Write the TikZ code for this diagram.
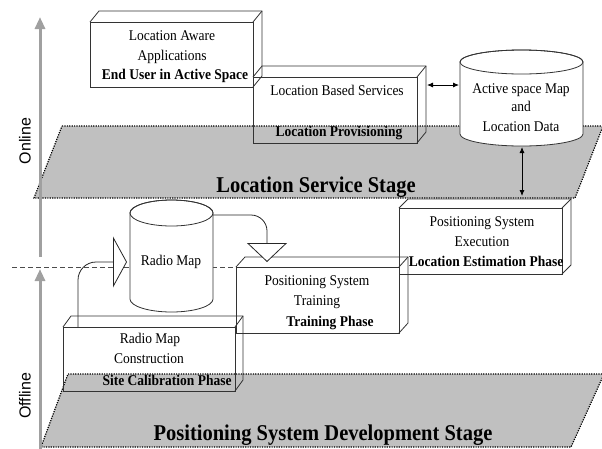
\documentclass[tikz,border=0pt]{standalone}
\usepackage{fontspec}
\setmainfont{Liberation Serif}
\newfontfamily\arialfont{Liberation Sans}
\usetikzlibrary{arrows.meta,calc}
\definecolor{stagegray}{RGB}{192,192,192}
\definecolor{arrowgray}{RGB}{160,160,160}
\newcommand\vs[1]{\scalebox{1}[1.1]{#1}}
\newcommand\mycube[3]{%
  \draw[edge] (#1.north west) -- ++(#2,-#3) -| ($(#1.south east)+(#2,-#3)$) -- (#1.south east);
  \draw[edge] (#1.north east) -- ++(#2,-#3);}
\tikzset{
  edge/.style={draw=black!80, line width=0.8pt},
  front/.style={draw=black!80, line width=0.8pt, inner sep=0pt, outer sep=0pt, anchor=north west},
  txt/.style={font=\fontsize{13.5}{16}\selectfont, inner sep=0pt, text height=9.5pt, text depth=3pt},
  btxt/.style={txt, font=\fontsize{13.5}{16}\selectfont\bfseries},
  stage/.style={fill=stagegray, draw=black, line width=1.2pt, dash pattern=on 1.2pt off 1.2pt},
  stagelbl/.style={font=\fontsize{20.5}{24}\selectfont\bfseries, inner sep=0pt, anchor=base},
  timeline/.style={draw=arrowgray, line width=3pt, -{Triangle[length=12pt,width=10pt]}},
  sidelbl/.style={rotate=90, font=\arialfont\fontsize{16}{18}\selectfont, inner sep=0pt},
  dashedline/.style={draw=black!70, line width=0.8pt, dash pattern=on 5pt off 3pt},
  cyl/.style={fill=white, draw=black!80, line width=0.8pt},
  link/.style={draw=black!85, line width=0.8pt},
  dbl/.style={draw=black, line width=0.8pt, {Latex[length=6pt,width=5pt]}-{Latex[length=6pt,width=5pt]}}
}
\begin{document}
\begin{tikzpicture}[x=1pt,y=-1pt]
\useasboundingbox (0,0) rectangle (602,448);

% stages
\path[stage] (62,126) -- (603,126) -- (575,198) -- (34,198) -- cycle;
\node[stagelbl] (lss) at (316,192) {\vs{Location Service Stage}};
\path[stage] (68,374) -- (604,374) -- (571,447) -- (41,447) -- cycle;
\node[stagelbl] (psd) at (323,440) {\vs{Positioning System Development Stage}};

% online / offline separator
\coordinate (dl) at (12,267);
\coordinate (dr) at (310,267);
\draw[dashedline] (dl) -- (dr);

% timeline arrows
\coordinate (onA) at (40,257);
\coordinate (onB) at (40,17);
\draw[timeline] (onA) -- (onB);
\coordinate (offA) at (40,449);
\coordinate (offB) at (40,269);
\draw[timeline] (offA) -- (offB);
\node[sidelbl] (online) at (25,141) {Online};
\node[sidelbl] (offline) at (25,396) {Offline};

% boxes
\node[front, minimum width=163pt, minimum height=65pt] (laa) at (90,22) {};
\mycube{laa}{9}{11}
\node[front, minimum width=164pt, minimum height=66pt] (lbs) at (253,77) {};
\mycube{lbs}{9}{11}
\node[front, minimum width=163pt, minimum height=66pt] (exe) at (399,208) {};
\mycube{exe}{9}{9}
\node[front, minimum width=163pt, minimum height=66pt] (trn) at (236,267) {};
\mycube{trn}{9}{10}
\node[front, minimum width=172pt, minimum height=64pt] (rmc) at (63,327) {};
\mycube{rmc}{8}{11}

% radio map cylinder
\path[cyl] (130,213) -- (130,299) arc[start angle=180, end angle=360, x radius=41.5pt, y radius=13pt]
  -- (213,213) arc[start angle=0, end angle=180, x radius=41.5pt, y radius=13pt] -- cycle;
\draw[edge] (171.5,213) ellipse[x radius=41.5pt, y radius=13pt];
% active space map cylinder
\path[cyl] (460,62) -- (460,134) arc[start angle=180, end angle=360, x radius=61.5pt, y radius=12pt]
  -- (583,62) arc[start angle=0, end angle=180, x radius=61.5pt, y radius=12pt] -- cycle;
\draw[edge] (521.5,62) ellipse[x radius=61.5pt, y radius=12pt];

% connectors
\coordinate (rmcT) at (78,327);
\coordinate (rmW) at (127,262);
\draw[link, rounded corners=18pt, -{Triangle[length=14pt,width=51pt,fill=white]}] (rmcT) |- (rmW);
\coordinate (rmE) at (213,215);
\coordinate (trnT) at (267,262);
\draw[link, rounded corners=16pt, -{Triangle[length=19pt,width=40pt,fill=white]}] (rmE) -| (trnT);
\coordinate (lbsE) at (427,85);
\coordinate (asmW) at (459,85);
\draw[dbl] (lbsE) -- (asmW);
\coordinate (asmS) at (522,147);
\coordinate (exeN) at (522,196);
\draw[dbl] (asmS) -- (exeN);

% texts
\node[txt] (laa1) at (172,37) {\vs{Location Aware}};
\node[txt] (laa2) at (172,57) {\vs{Applications}};
\node[btxt] (laa3) at (175,76) {\vs{End User in Active Space}};
\node[txt] (lbs1) at (337,92) {\vs{Location Based Services}};
\node[btxt] (lbs2) at (339,133) {\vs{Location Provisioning}};
\node[txt] (exe1) at (482,223) {\vs{Positioning System}};
\node[txt] (exe2) at (482,243) {\vs{Execution}};
\node[btxt] (exe3) at (486,263) {\vs{Location Estimation Phase}};
\node[txt] (trn1) at (317,282) {\vs{Positioning System}};
\node[txt] (trn2) at (317,302) {\vs{Training}};
\node[btxt] (trn3) at (330,323) {\vs{Training Phase}};
\node[txt] (rmc1) at (150,340) {\vs{Radio Map}};
\node[txt] (rmc2) at (149,360) {\vs{Construction}};
\node[btxt] (rmc3) at (167,382) {\vs{Site Calibration Phase}};
\node[txt] (rm) at (171,262) {\vs{Radio Map}};
\node[txt] (asm1) at (521,90) {\vs{Active space Map}};
\node[txt] (asm2) at (521,108) {\vs{and}};
\node[txt] (asm3) at (521,128) {\vs{Location Data}};
\end{tikzpicture}
\end{document}
